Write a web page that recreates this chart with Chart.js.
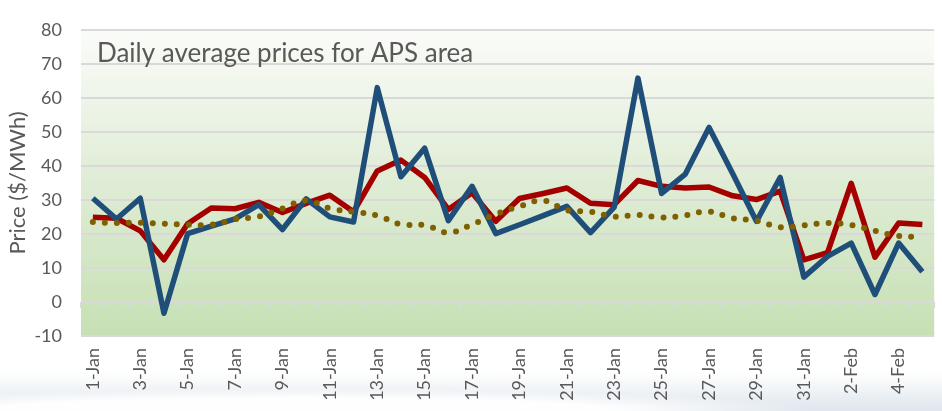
<!DOCTYPE html>
<html>
<head>
<meta charset="utf-8">
<script src="https://cdn.jsdelivr.net/npm/chart.js@4.4.0/dist/chart.umd.min.js"></script>
<style>
  html, body { margin: 0; padding: 0; background: #fff; overflow: hidden; }
  #wrap { position: relative; width: 956px; height: 411px; }
  #swoosh {
    position: absolute; left: 0; top: 0; width: 942px; height: 411px;
    background:
      radial-gradient(ellipse 520px 22px at 300px 411px, rgba(255,255,255,0.95) 60%, rgba(255,255,255,0) 100%),
      linear-gradient(to bottom, #ffffff 0px, #ffffff 372px, #e9eef3 398px, #dfe6ed 411px);
  }
  canvas { position: relative; }
</style>
</head>
<body>
<div id="wrap">
  <div id="swoosh"></div>
  <canvas id="prices" width="956" height="411"></canvas>
</div>
<script>
// days on the x axis
var days = [];
for (var d = 1; d <= 31; d++) days.push(d + "-Jan");
for (var f = 1; f <= 5; f++) days.push(f + "-Feb");

// daily prices ($/MWh)
var bluePrices = [30.5, 24.4, 30.5, -3.3, 20.1, 22.3, 24.4, 28.6, 21.3, 30.3, 25.0, 23.5,
  63.0, 36.8, 45.2, 23.9, 34.0, 20.1, 22.7, 25.4, 28.1, 20.4, 27.9, 65.8,
  31.9, 37.6, 51.3, 37.7, 23.7, 36.6, 7.3, 13.4, 17.3, 2.2, 17.3, 8.9];

var redPrices = [24.9, 24.6, 20.9, 12.4, 23.0, 27.6, 27.4, 29.3, 26.3, 29.0, 31.4, 26.5,
  38.5, 41.7, 36.6, 27.2, 32.1, 23.7, 30.4, 31.9, 33.5, 29.0, 28.6, 35.7,
  34.0, 33.5, 33.8, 31.2, 30.1, 32.6, 12.4, 14.5, 34.9, 13.2, 23.2, 22.8];

var avgPrices = [23.5, 23.2, 23.3, 23.0, 22.7, 22.7, 24.3, 25.1, 27.5, 29.8, 27.5, 26.5,
  25.4, 22.8, 22.6, 20.4, 22.8, 25.8, 28.1, 29.8, 27.0, 26.5, 25.1, 25.6,
  24.8, 25.5, 26.6, 24.6, 23.9, 22.0, 22.5, 23.2, 22.6, 20.9, 19.4, 19.2];

var chartTitle = "Daily average prices for APS area";
var textColor = "#595959";
var fontFamily = "Lato, 'Open Sans', sans-serif";

// green plot background, title and the small ticks on the zero line
var plotDeco = {
  id: "plotDeco",
  beforeDraw: function (chart) {
    var ctx = chart.ctx, a = chart.chartArea;
    var g = ctx.createLinearGradient(0, a.top, 0, a.bottom);
    g.addColorStop(0, "#fbfcf9");
    g.addColorStop(0.5, "#dfecd5");
    g.addColorStop(1, "#c6e0b4");
    ctx.save();
    ctx.fillStyle = g;
    ctx.fillRect(a.left, a.top, a.right - a.left, a.bottom - a.top);
    ctx.restore();
  },
  beforeDatasetsDraw: function (chart) {
    var ctx = chart.ctx, a = chart.chartArea;
    var x = chart.scales.x, y0 = chart.scales.y.getPixelForValue(0);
    ctx.save();
    ctx.strokeStyle = "#d9d9d9";
    ctx.lineWidth = 2;
    ctx.beginPath();
    for (var i = 0; i <= days.length; i++) {
      var px = x.getPixelForValue(i - 0.5);
      ctx.moveTo(px, y0);
      ctx.lineTo(px, y0 + 6);
    }
    ctx.stroke();
    ctx.fillStyle = textColor;
    ctx.font = "26px " + fontFamily;
    ctx.textBaseline = "middle";
    ctx.fillText(chartTitle, a.left + 16, a.top + 24);
    ctx.restore();
  }
};

new Chart("prices", {
  type: "line",
  data: {
    labels: days,
    datasets: [{
      label: "Average",
      data: avgPrices,
      borderColor: "#7f6000",
      borderWidth: 6,
      borderDash: [0, 12],
      borderCapStyle: "round",
      pointRadius: 0,
      tension: 0.4
    }, {
      label: "Blue",
      data: bluePrices,
      borderColor: "#1f4e79",
      borderWidth: 5.5,
      borderJoinStyle: "round",
      pointRadius: 0,
      tension: 0
    }, {
      label: "Red",
      data: redPrices,
      borderColor: "#a50000",
      borderWidth: 5.5,
      borderJoinStyle: "round",
      pointRadius: 0,
      tension: 0
    }]
  },
  options: {
    responsive: false,
    animation: false,
    layout: { padding: { top: 16, right: 4, left: 0, bottom: 0 } },
    plugins: {
      legend: { display: false },
      tooltip: { enabled: false }
    },
    scales: {
      x: {
        offset: true,
        grid: { display: false, drawTicks: false },
        border: { display: false },
        ticks: {
          autoSkip: false,
          maxRotation: 90,
          minRotation: 90,
          padding: 12,
          color: textColor,
          font: { size: 18, family: fontFamily },
          callback: function (v, i) { return i % 2 === 0 ? days[i] : ""; }
        },
        afterFit: function (s) { s.height = 75; }
      },
      y: {
        min: -10,
        max: 80,
        grid: { color: "#d9d9d9", lineWidth: 2, drawTicks: false },
        border: { display: false },
        ticks: {
          stepSize: 10,
          padding: 19,
          color: textColor,
          font: { size: 18, family: fontFamily }
        },
        title: {
          display: true,
          text: "Price ($/MWh)",
          color: textColor,
          padding: { top: 5, bottom: 2 },
          font: { size: 22, family: fontFamily }
        },
        afterFit: function (s) { s.width = 81; }
      }
    }
  },
  plugins: [plotDeco]
});
</script>
</body>
</html>
